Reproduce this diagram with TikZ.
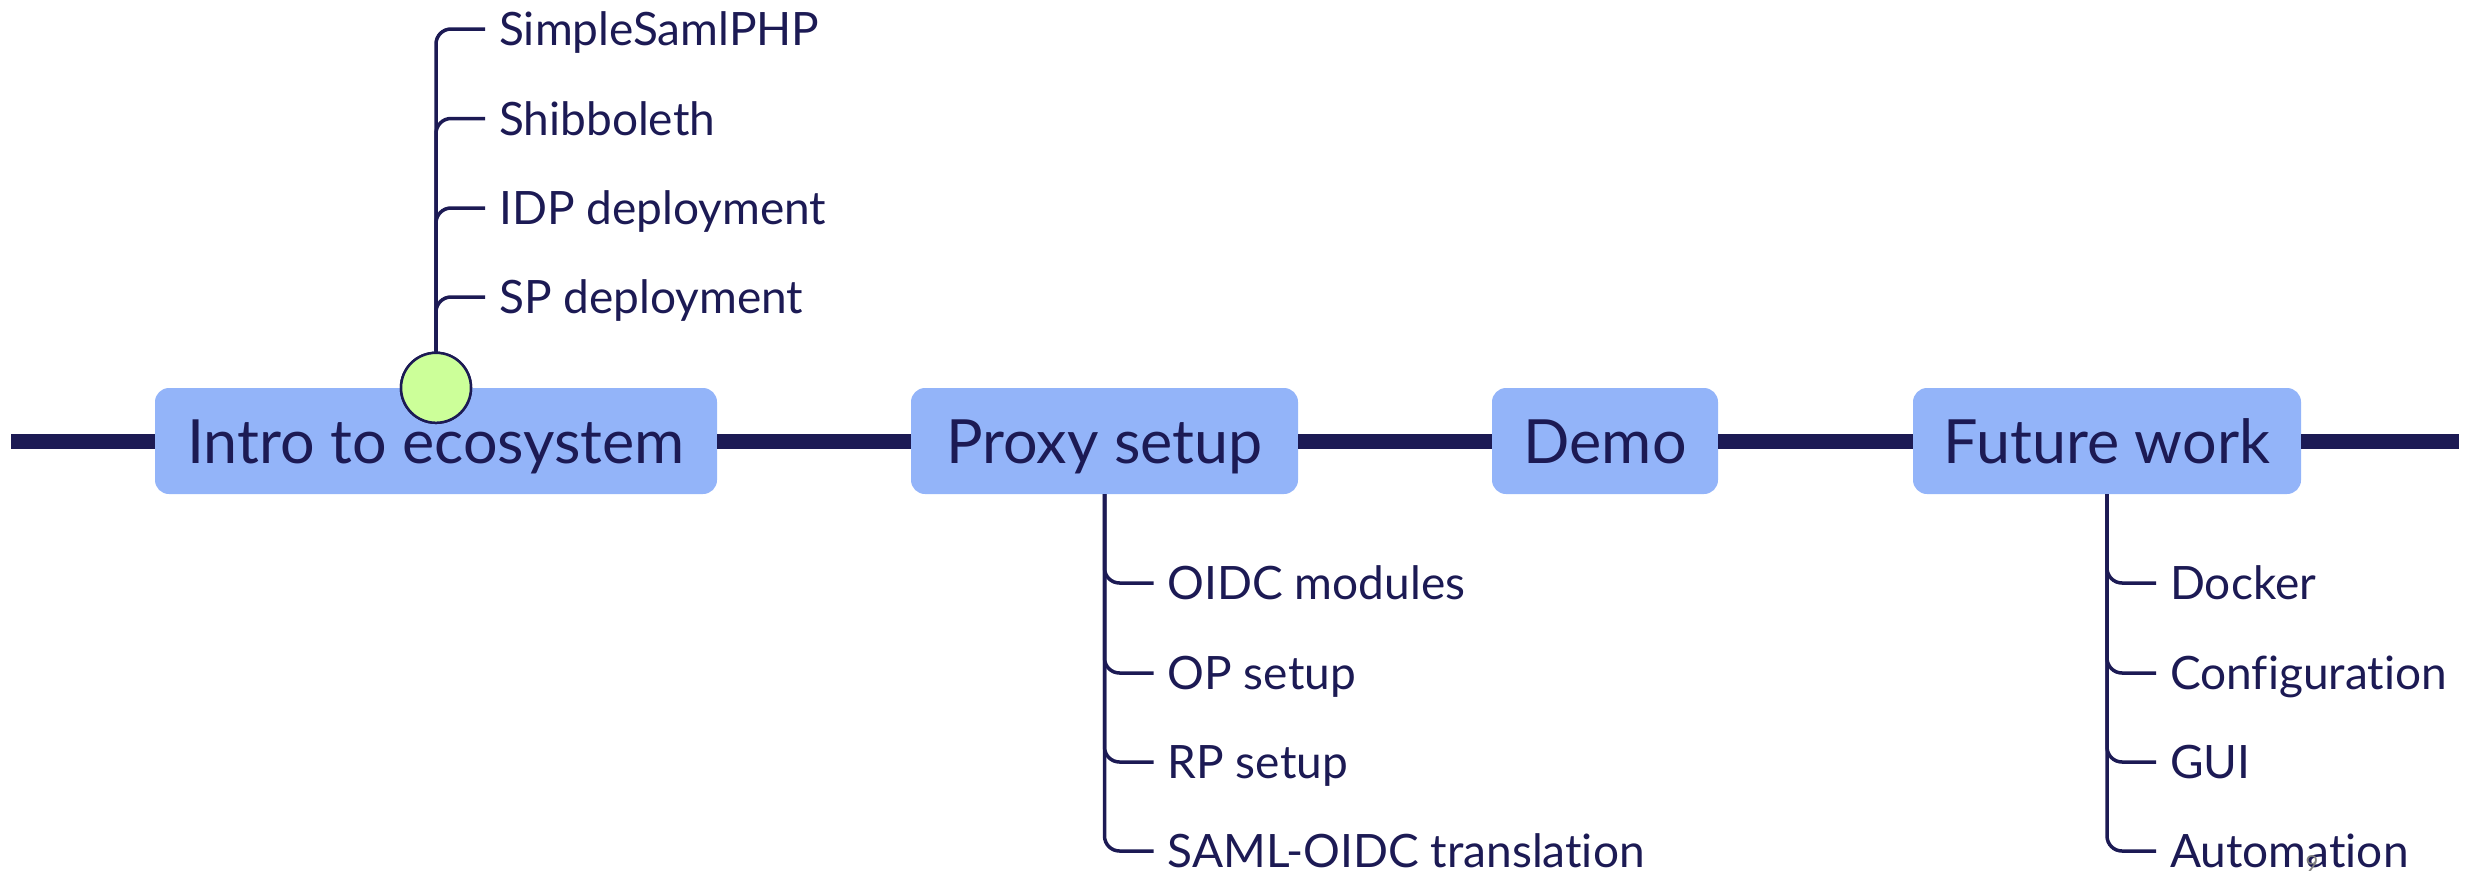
\documentclass[tikz,border=0pt]{standalone}
\usepackage{fontspec}
\setmainfont[Ligatures=NoCommon]{Lato}
\definecolor{navy}{RGB}{28,26,84}
\definecolor{boxfill}{RGB}{147,180,249}
\definecolor{lime}{RGB}{204,255,153}
\tikzset{
  topic/.style={rectangle, rounded corners=14pt, fill=boxfill, text=navy,
    minimum height=106pt, inner sep=0pt, text height=44pt, text depth=0pt,
    font=\fontsize{61}{66}\selectfont},
  leaf/.style={anchor=west, inner sep=0pt, text=navy, text height=33pt, text depth=0pt,
    font=\fontsize{46}{52}\selectfont},
  spine/.style={draw=navy, line width=15pt},
  branch/.style={draw=navy, line width=3.5pt, rounded corners=15pt},
  marker/.style={circle, minimum size=70pt, inner sep=0pt, fill=lime, draw=navy, line width=2.5pt},
  pagenum/.style={text=gray, font=\fontsize{22}{24}\selectfont, inner sep=0pt}
}
\begin{document}
\begin{tikzpicture}[x=1pt, y=-1pt]
\useasboundingbox (0,0) rectangle (2474,873);
\coordinate (start) at (11,441);
\coordinate (stop) at (2459,441);
\node[topic, minimum width=562pt] (intro) at (436,441) {Intro to ecosystem};
\node[topic, minimum width=387pt] (proxy) at (1104.5,441) {Proxy setup};
\node[topic, minimum width=226pt] (demo) at (1605,441) {Demo};
\node[topic, minimum width=388pt] (future) at (2107,441) {Future work};
\draw[spine] (start) -- (intro.west);
\draw[spine] (intro.east) -- (proxy.west);
\draw[spine] (proxy.east) -- (demo.west);
\draw[spine] (demo.east) -- (future.west);
\draw[spine] (future.east) -- (stop);
% intro children
\node[leaf] (i1) at (499,29) {SimpleSamlPHP};
\node[leaf] (i2) at (499,118.5) {Shibboleth};
\node[leaf] (i3) at (499,208) {IDP deployment};
\node[leaf] (i4) at (499,297) {SP deployment};
\node[marker] (dot) at (intro.north) {};
\foreach \c in {i1,i2,i3,i4} \draw[branch] (dot.north) |- ([xshift=-14pt]\c.west);
\node[marker] at (intro.north) {};
% proxy children
\node[leaf] (p1) at (1167.5,583) {OIDC modules};
\node[leaf] (p2) at (1167.5,673) {OP setup};
\node[leaf] (p3) at (1167.5,762) {RP setup};
\node[leaf] (p4) at (1167.5,851) {SAML-OIDC translation};
\foreach \c in {p1,p2,p3,p4} \draw[branch] (proxy.south) |- ([xshift=-14pt]\c.west);
% future children
\node[leaf] (f1) at (2170,583) {Docker};
\node[leaf] (f2) at (2170,673) {Configuration};
\node[leaf] (f3) at (2170,762) {GUI};
\node[leaf] (f4) at (2170,851) {Automation};
\foreach \c in {f1,f2,f3,f4} \draw[branch] (future.south) |- ([xshift=-14pt]\c.west);
\node[pagenum, anchor=north] (pg) at (2312,855) {9};
\end{tikzpicture}
\end{document}
